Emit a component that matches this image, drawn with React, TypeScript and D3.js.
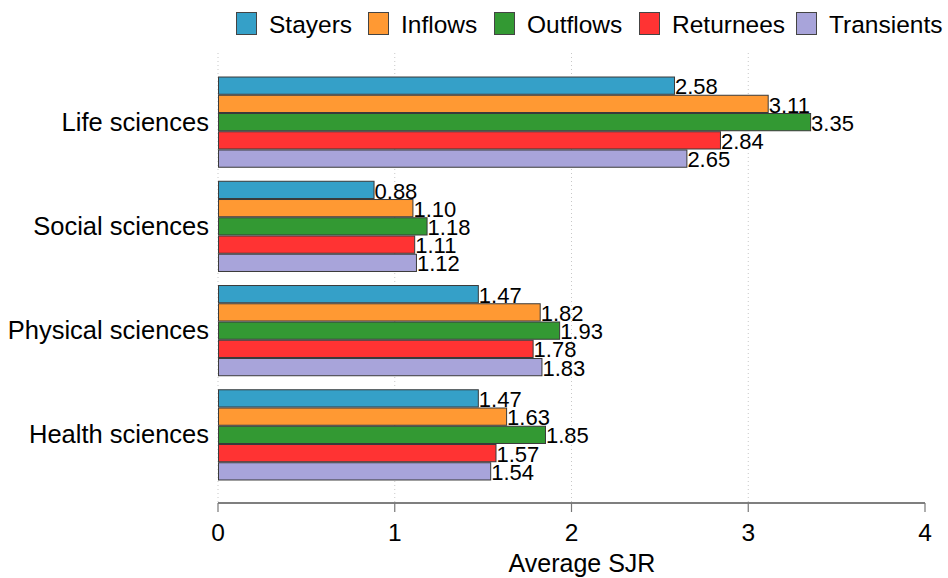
import * as d3 from "d3";

const categories = ["Life sciences", "Social sciences", "Physical sciences", "Health sciences"];
const seriesNames = ["Stayers", "Inflows", "Outflows", "Returnees", "Transients"];
const stayers = [2.58, 0.88, 1.47, 1.47];
const inflows = [3.11, 1.1, 1.82, 1.63];
const outflows = [3.35, 1.18, 1.93, 1.85];
const returnees = [2.84, 1.11, 1.78, 1.57];
const transients = [2.65, 1.12, 1.83, 1.54];
const xTicks = [0, 1, 2, 3, 4];
const gridTicks = [0, 1, 2, 3];
const colors = ["#35a0c8", "#ff9933", "#339933", "#ff3333", "#a8a4da"];

const seriesValues = [stayers, inflows, outflows, returnees, transients];
const W = 948;
const H = 578;
const font = "'Liberation Sans', Arial, Helvetica, sans-serif";

// legend box left edges
const legendX = [236, 368, 494, 639, 796];

export default function App() {
  const x = d3.scaleLinear().domain([0, 4]).range([218, 925]);
  const y = d3.scaleBand().domain(categories).range([70, 487]).paddingInner(0.125).paddingOuter(0.0625);
  const inner = d3.scaleBand().domain(seriesNames).range([0, y.bandwidth()]);
  const axisY = 503;
  const fmt = d3.format(".2f");

  return (
    <svg width={W} height={H} style={{ position: "absolute", left: 0, top: 0, background: "#fff" }} fontFamily={font}>
      {/* legend */}
      {seriesNames.map((s, i) => (
        <g key={s}>
          <rect x={legendX[i] + 0.5} y={12.5} width={20} height={22} fill={colors[i]} stroke="#444" strokeWidth={1} />
          <text x={legendX[i] + 33} y={33} fontSize={24.5} fill="#000">{s}</text>
        </g>
      ))}

      {/* dotted grid */}
      {gridTicks.map((t) => (
        <line key={t} x1={x(t)} x2={x(t)} y1={53} y2={axisY} stroke="#c8c8c8" strokeWidth={1} strokeDasharray="1,3" />
      ))}

      {/* bars */}
      {categories.map((c, ci) => (
        <g key={c} transform={`translate(0,${y(c)})`}>
          {seriesNames.map((s, si) => {
            const v = seriesValues[si][ci];
            const by = inner(s) as number;
            return (
              <g key={s}>
                <rect x={x(0) + 0.5} y={by + 0.5} width={x(v) - x(0)} height={inner.bandwidth() - 1}
                  fill={colors[si]} stroke="#3a3a3a" strokeWidth={1} />
                <text x={x(v) + 1} y={by + inner.bandwidth() - 0.5} fontSize={22} fill="#000">{fmt(v)}</text>
              </g>
            );
          })}
        </g>
      ))}

      {/* category labels */}
      {categories.map((c) => (
        <text key={c} x={209} y={(y(c) as number) + y.bandwidth() / 2 + 8.5} fontSize={25.5} textAnchor="end" fill="#000">{c}</text>
      ))}

      {/* x axis */}
      <line x1={x(0)} x2={x(4)} y1={axisY} y2={axisY} stroke="#555" strokeWidth={1.5} />
      {xTicks.map((t) => (
        <g key={t}>
          <line x1={x(t)} x2={x(t)} y1={axisY} y2={axisY + 9} stroke="#777" strokeWidth={1.2} />
          <text x={x(t)} y={541} fontSize={24.5} textAnchor="middle" fill="#000">{t}</text>
        </g>
      ))}
      <text x={582} y={572} fontSize={25} textAnchor="middle" fill="#000">Average SJR</text>
    </svg>
  );
}
